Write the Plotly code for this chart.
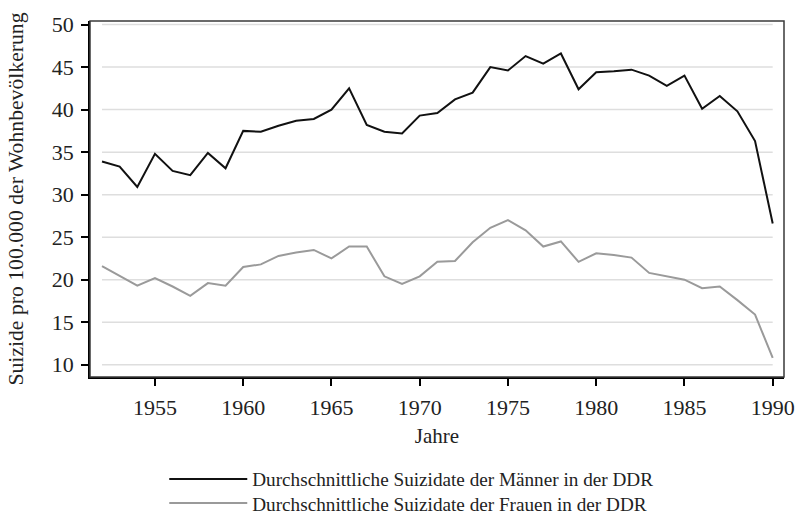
import plotly.graph_objects as go

years = list(range(1952, 1991))
maenner = [33.9, 33.3, 30.9, 34.8, 32.8, 32.3, 34.9, 33.1, 37.5, 37.4,
           38.1, 38.7, 38.9, 40.0, 42.5, 38.2, 37.4, 37.2, 39.3, 39.6,
           41.2, 42.0, 45.0, 44.6, 46.3, 45.4, 46.6, 42.4, 44.4, 44.5,
           44.7, 44.0, 42.8, 44.0, 40.1, 41.6, 39.8, 36.3, 26.6]
frauen = [21.6, 20.4, 19.3, 20.2, 19.2, 18.1, 19.6, 19.3, 21.5, 21.8,
          22.8, 23.2, 23.5, 22.5, 23.9, 23.9, 20.4, 19.5, 20.4, 22.1,
          22.2, 24.4, 26.1, 27.0, 25.8, 23.9, 24.5, 22.1, 23.1, 22.9,
          22.6, 20.8, 20.4, 20.0, 19.0, 19.2, 17.6, 15.9, 10.8]
series_names = ["Durchschnittliche Suizidate der Männer in der DDR",
                "Durchschnittliche Suizidate der Frauen in der DDR"]
x_ticks = [1955, 1960, 1965, 1970, 1975, 1980, 1985, 1990]
y_ticks = [10, 15, 20, 25, 30, 35, 40, 45, 50]

FONT = "Liberation Serif"
TXT = "#222222"

fig = go.Figure()
fig.add_trace(go.Scatter(x=years, y=maenner, mode="lines", name=series_names[0],
                         line=dict(color="#111111", width=2), legend="legend"))
fig.add_trace(go.Scatter(x=years, y=frauen, mode="lines", name=series_names[1],
                         line=dict(color="#9a9a9a", width=2), legend="legend2"))

# gridlines spanning only the data range (Stata style)
for v in y_ticks:
    fig.add_shape(type="line", xref="x", yref="y", x0=years[0], x1=years[-1],
                  y0=v, y1=v, line=dict(color="#dedede", width=1.5), layer="below")

# frame (top/right)
fig.add_shape(type="rect", xref="paper", yref="paper", x0=0, x1=1, y0=0, y1=1,
              line=dict(color="#3a3a3a", width=1.5), layer="above")

leg_common = dict(x=0.107, xanchor="left", yanchor="middle",
                  font=dict(family=FONT, size=19.2, color=TXT),
                  itemwidth=78, bgcolor="rgba(0,0,0,0)")

fig.update_layout(
    width=797, height=513,
    margin=dict(l=90, r=13, t=21, b=136, autoexpand=False),
    paper_bgcolor="white", plot_bgcolor="white",
    font=dict(family=FONT, color=TXT, size=20),
    showlegend=True,
    legend=dict(y=-0.2865, **leg_common),
    legend2=dict(y=-0.354, **leg_common),
)
fig.update_xaxes(range=[1951.32, 1990.64], tickvals=x_ticks, showgrid=False,
                 zeroline=False, showline=True, linecolor="black", linewidth=1.5,
                 ticks="outside", ticklen=7, tickwidth=1.5, tickcolor="black",
                 automargin=False, ticklabelstandoff=3,
                 tickfont=dict(family=FONT, size=22, color=TXT),
                 title=dict(text="Jahre", font=dict(family=FONT, size=21, color=TXT),
                            standoff=9))
fig.update_yaxes(range=[8.56, 50.42], tickvals=y_ticks, showgrid=False,
                 zeroline=False, showline=True, linecolor="black", linewidth=1.5,
                 ticks="outside", ticklen=7, tickwidth=1.5, tickcolor="black",
                 automargin=False, ticklabelstandoff=3,
                 tickfont=dict(family=FONT, size=22, color=TXT),
                 title=dict(text="Suizide pro 100.000 der Wohnbevölkerung",
                            font=dict(family=FONT, size=21.7, color=TXT),
                            standoff=22))

fig.write_html("out.html", config={"displayModeBar": False},
               post_script="document.body.style.margin='0';")
